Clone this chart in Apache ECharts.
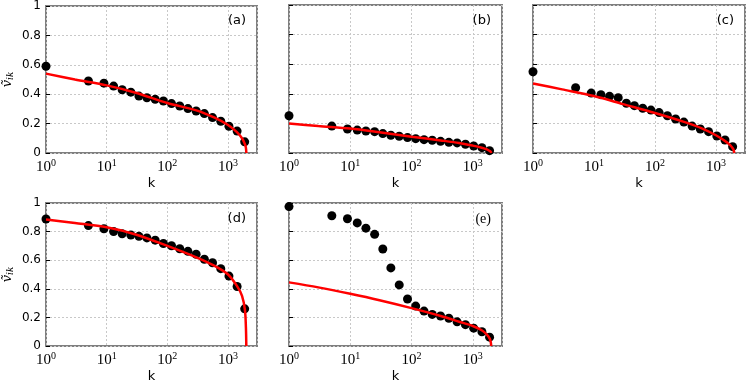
<!DOCTYPE html>
<html>
<head>
<meta charset="utf-8">
<script src="https://cdn.jsdelivr.net/npm/echarts@6/dist/echarts.min.js"></script>
<style>
  html, body { margin: 0; padding: 0; background: #fff; }
  #chart { width: 747px; height: 384px; }
</style>
</head>
<body>
<div id="chart"></div>
<script>
// rank k of each measured point (shared by all panels)
const kValues = [1, 5, 9, 13, 18, 25, 34, 46, 63, 86, 117, 160, 218, 298, 407, 555, 759, 1035, 1410, 1880];

// measured points, one array per panel
const ptsA = [0.59, 0.49, 0.475, 0.455, 0.43, 0.414, 0.387, 0.376, 0.365, 0.354, 0.336, 0.32, 0.302, 0.286, 0.268, 0.241, 0.216, 0.182, 0.149, 0.076];
const ptsB = [0.252, 0.182, 0.162, 0.155, 0.149, 0.144, 0.131, 0.12, 0.113, 0.104, 0.097, 0.09, 0.086, 0.079, 0.072, 0.068, 0.059, 0.047, 0.036, 0.016];
const ptsC = [0.549, 0.441, 0.405, 0.394, 0.383, 0.374, 0.336, 0.32, 0.302, 0.29, 0.273, 0.252, 0.23, 0.209, 0.182, 0.162, 0.144, 0.115, 0.088, 0.043];
const ptsD = [0.888, 0.842, 0.82, 0.801, 0.785, 0.776, 0.767, 0.756, 0.74, 0.717, 0.701, 0.68, 0.662, 0.642, 0.607, 0.582, 0.541, 0.489, 0.416, 0.26];
const ptsE = [0.975, 0.911, 0.89, 0.861, 0.824, 0.781, 0.678, 0.546, 0.427, 0.329, 0.279, 0.244, 0.221, 0.21, 0.194, 0.169, 0.149, 0.125, 0.1, 0.062];

const fitK = [1, 3, 10, 30, 100, 300, 600, 1000, 1400, 1700, 1900, 1970, 2000];
const fitA = [0.54, 0.50, 0.46, 0.41, 0.34, 0.29, 0.24, 0.19, 0.142, 0.10, 0.06, 0.035, 0];
const fitB = [0.20, 0.182, 0.165, 0.14, 0.11, 0.085, 0.068, 0.05, 0.036, 0.025, 0.013, 0.007, 0];
const fitC = [0.47, 0.43, 0.385, 0.33, 0.27, 0.21, 0.165, 0.12, 0.082, 0.055, 0.03, 0.015, 0];
const fitD = [0.885, 0.86, 0.83, 0.78, 0.70, 0.62, 0.56, 0.50, 0.42, 0.35, 0.25, 0.13, 0];
const fitE = [0.445, 0.41, 0.365, 0.32, 0.265, 0.21, 0.17, 0.14, 0.11, 0.08, 0.05, 0.025, 0];

const panelNames = ['(a)', '(b)', '(c)', '(d)', '(e)'];

const panels = [
  { pts: ptsA, fit: fitA, left: 43, top: 5, width: 214, height: 148, yLabels: true },
  { pts: ptsB, fit: fitB, left: 289, top: 5, width: 213, height: 148, yLabels: false },
  { pts: ptsC, fit: fitC, left: 533, top: 5, width: 212, height: 148, yLabels: false },
  { pts: ptsD, fit: fitD, left: 43, top: 203, width: 214, height: 146, yLabels: true },
  { pts: ptsE, fit: fitE, left: 289, top: 203, width: 213, height: 146, yLabels: false }
];

const chart = echarts.init(document.getElementById('chart'));

const gridLine = { color: '#c8c8c8', type: [2, 2], width: 1 };

const grid = [], xAxis = [], yAxis = [], series = [], graphic = [];

panels.forEach(function (p, i) {
  grid.push({
    left: p.left, top: p.top, width: p.width, height: p.height,
    show: true, borderColor: '#7f7f7f', borderWidth: 2
  });
  xAxis.push({
    gridIndex: i, type: 'log', logBase: 10, min: 1, max: 3000,
    name: 'k', nameLocation: 'middle', nameGap: 24,
    nameTextStyle: { fontFamily: 'DejaVu Sans', fontSize: 13, color: '#000' },
    axisLine: { show: false },
    axisTick: { show: false },
    splitLine: { show: true, lineStyle: gridLine },
    axisLabel: {
      showMaxLabel: false, margin: 5, color: '#000',
      formatter: function (v) {
        const e = Math.log10(v);
        const r = Math.round(e);
        if (Math.abs(e - r) > 1e-6) return '';
        return '{b|10}{s|' + r + '}';
      },
      rich: {
        b: { fontFamily: 'Liberation Serif', fontSize: 15, color: '#000' },
        s: { fontFamily: 'Liberation Serif', fontSize: 10, color: '#000', verticalAlign: 'bottom', padding: [0, 0, 8, 0] }
      }
    }
  });
  yAxis.push({
    gridIndex: i, type: 'value', min: 0, max: 1, interval: 0.2,
    name: p.yLabels ? '{v|ṽ}{s|ik}' : '', nameLocation: 'middle', nameGap: 31, nameRotate: 90,
    nameTextStyle: {
      rich: {
        v: { fontFamily: 'DejaVu Serif', fontStyle: 'italic', fontSize: 13, color: '#000' },
        s: { fontFamily: 'DejaVu Serif', fontStyle: 'italic', fontSize: 9, color: '#000', verticalAlign: 'top', padding: [6, 0, 0, 0] }
      }
    },
    axisLine: { show: false },
    axisTick: { show: true, inside: true, length: 4, lineStyle: { color: '#000', width: 1 } },
    splitLine: { show: true, lineStyle: gridLine },
    axisLabel: { show: p.yLabels, margin: 5, fontFamily: 'DejaVu Sans', fontSize: 12, color: '#000' }
  });
  series.push({
    type: 'scatter', xAxisIndex: i, yAxisIndex: i,
    symbolSize: 9, itemStyle: { color: '#000', opacity: 1 },
    data: kValues.map(function (k, j) { return [k, p.pts[j]]; }),
    z: 3
  });
  series.push({
    type: 'line', xAxisIndex: i, yAxisIndex: i, smooth: 0.3,
    showSymbol: false, lineStyle: { color: '#ff0000', width: 2.5 },
    data: fitK.map(function (k, j) { return [k, p.fit[j]]; }),
    z: 4
  });
  graphic.push({
    type: 'text', right: 747 - (p.left + p.width) + 11, top: p.top + 9,
    style: {
      text: panelNames[i],
      font: (i === 4 ? '14px "Liberation Serif"' : '13px "DejaVu Sans"'),
      fill: '#000'
    },
    z: 10
  });
});

chart.setOption({
  animation: false,
  grid: grid,
  xAxis: xAxis,
  yAxis: yAxis,
  series: series,
  graphic: graphic
});
</script>
</body>
</html>
